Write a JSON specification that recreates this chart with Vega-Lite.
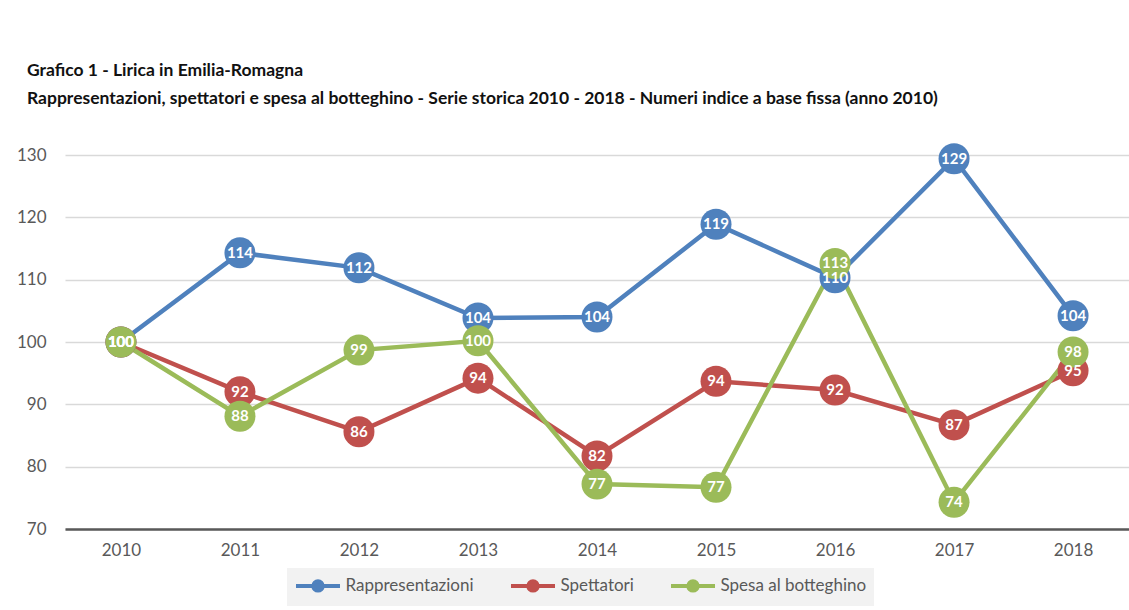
{
  "$schema": "https://vega.github.io/schema/vega-lite/v6.json",
  "autosize": "none",
  "width": 1064,
  "height": 374,
  "padding": {"left": 65, "top": 155, "right": 0, "bottom": 81},
  "background": "white",
  "title": {
    "text": ["Grafico 1 - Lirica in Emilia-Romagna", "Rappresentazioni, spettatori e spesa al botteghino - Serie storica 2010 - 2018 - Numeri indice a base fissa (anno 2010)"],
    "anchor": "start",
    "frame": "group",
    "dx": -38,
    "offset": 36,
    "font": "Lato",
    "fontSize": 17.5,
    "fontWeight": "bold",
    "lineHeight": 28,
    "color": "#111111"
  },
  "config": {
    "view": {"stroke": null},
    "axis": {"labelFont": "Lato", "labelFontSize": 17, "labelColor": "#595959", "title": null}
  },
  "data": {
    "values": [
      {"anno": "2010", "serie": "Rappresentazioni", "valore": 100},
      {"anno": "2011", "serie": "Rappresentazioni", "valore": 114.3},
      {"anno": "2012", "serie": "Rappresentazioni", "valore": 111.9},
      {"anno": "2013", "serie": "Rappresentazioni", "valore": 103.85},
      {"anno": "2014", "serie": "Rappresentazioni", "valore": 104.0},
      {"anno": "2015", "serie": "Rappresentazioni", "valore": 118.9},
      {"anno": "2016", "serie": "Rappresentazioni", "valore": 110.3},
      {"anno": "2017", "serie": "Rappresentazioni", "valore": 129.4},
      {"anno": "2018", "serie": "Rappresentazioni", "valore": 104.2},
      {"anno": "2010", "serie": "Spettatori", "valore": 100},
      {"anno": "2011", "serie": "Spettatori", "valore": 92.0},
      {"anno": "2012", "serie": "Spettatori", "valore": 85.6},
      {"anno": "2013", "serie": "Spettatori", "valore": 94.2},
      {"anno": "2014", "serie": "Spettatori", "valore": 81.7},
      {"anno": "2015", "serie": "Spettatori", "valore": 93.7},
      {"anno": "2016", "serie": "Spettatori", "valore": 92.3},
      {"anno": "2017", "serie": "Spettatori", "valore": 86.7},
      {"anno": "2018", "serie": "Spettatori", "valore": 95.4},
      {"anno": "2010", "serie": "Spesa al botteghino", "valore": 100},
      {"anno": "2011", "serie": "Spesa al botteghino", "valore": 88.1},
      {"anno": "2012", "serie": "Spesa al botteghino", "valore": 98.7},
      {"anno": "2013", "serie": "Spesa al botteghino", "valore": 100.2},
      {"anno": "2014", "serie": "Spesa al botteghino", "valore": 77.2},
      {"anno": "2015", "serie": "Spesa al botteghino", "valore": 76.7},
      {"anno": "2016", "serie": "Spesa al botteghino", "valore": 112.6},
      {"anno": "2017", "serie": "Spesa al botteghino", "valore": 74.3},
      {"anno": "2018", "serie": "Spesa al botteghino", "valore": 98.4}
    ]
  },
  "encoding": {
    "x": {
      "field": "anno", "type": "ordinal",
      "scale": {"type": "point", "padding": 0.47},
      "axis": {"labelAngle": 0, "ticks": false, "labelPadding": 13, "domainColor": "#595959", "domainWidth": 2.5, "grid": false}
    },
    "y": {
      "field": "valore", "type": "quantitative",
      "scale": {"domain": [70, 130], "nice": false, "zero": false},
      "axis": {"values": [70, 80, 90, 100, 110, 120, 130], "domain": false, "ticks": false, "labelPadding": 19, "gridColor": "#d9d9d9", "gridWidth": 1.5}
    }
  },
  "layer": [
    {
      "mark": {"type": "line", "strokeWidth": 4.5},
      "encoding": {
        "color": {
          "field": "serie", "type": "nominal",
          "scale": {"domain": ["Rappresentazioni", "Spettatori", "Spesa al botteghino"], "range": ["#4f81bd", "#c0504d", "#9bbb59"]},
          "legend": {
            "orient": "none", "legendX": 222, "legendY": 413, "direction": "horizontal",
            "title": null, "fillColor": "#f2f2f2", "padding": 7,
            "labelFont": "Lato", "labelFontSize": 17, "labelColor": "#595959",
            "symbolOffset": 13.5, "labelOffset": 17,
            "columnPadding": 28,
            "symbolType": "M-2.59,0H2.59M0.55,0A0.55,0.55 0 1 1 -0.55,0A0.55,0.55 0 1 1 0.55,0",
            "symbolSize": 289, "symbolStrokeWidth": 4
          }
        }
      }
    },
    {
      "mark": {"type": "circle", "size": 960, "opacity": 1},
      "encoding": {
        "color": {"field": "serie", "type": "nominal"}
      }
    },
    {
      "mark": {"type": "text", "color": "white", "font": "Lato", "fontSize": 15, "fontWeight": "bold", "align": "center", "baseline": "middle"},
      "encoding": {
        "text": {"field": "valore", "type": "quantitative", "format": ".0f"}
      }
    }
  ]
}
